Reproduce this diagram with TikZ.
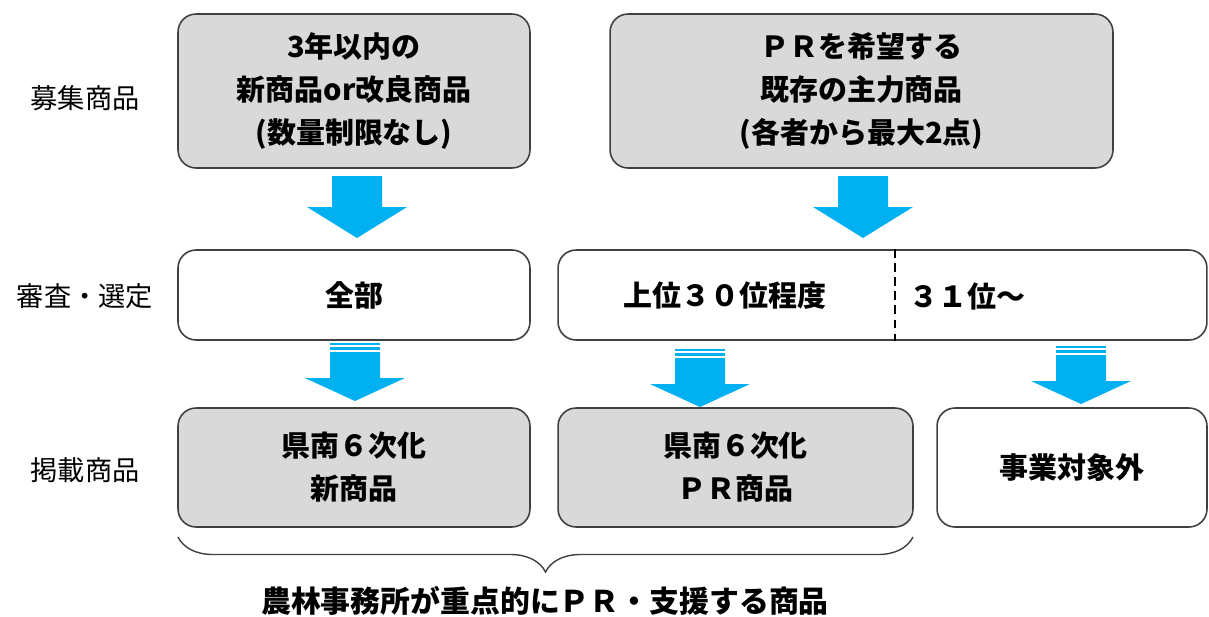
\documentclass[tikz,border=0pt]{standalone}
\usepackage{fontspec}
\newfontfamily\cjk{Noto Sans CJK JP}
\usetikzlibrary{positioning, calc, decorations.pathreplacing}

\definecolor{arrowblue}{HTML}{00B0F0}
\definecolor{boxgray}{HTML}{D9D9D9}
\definecolor{edgegray}{HTML}{404040}

% plain block arrow: centre x, top, head base, tip
\newcommand{\blockarrow}[4]{%
  \fill[arrowblue] (#1-25,#2) -- (#1+25,#2) -- (#1+25,#3) -- (#1+50,#3)
    -- (#1,#4) -- (#1-50,#3) -- (#1-25,#3) -- cycle;}
% block arrow with two thin bands on top
\newcommand{\bandarrow}[4]{%
  \fill[arrowblue] (#1-25,#2) rectangle (#1+25,#2+1.5);
  \fill[arrowblue] (#1-25,#2+3.5) rectangle (#1+25,#2+7);
  \blockarrow{#1}{#2+9}{#3}{#4}}

\begin{document}
\begin{tikzpicture}[x=0.02cm, y=-0.02cm, font=\cjk,
    box/.style={draw=edgegray, line width=0.9pt, rounded corners=0.36cm,
      fill=white, align=center, font=\cjk\bfseries\fontsize{16.5pt}{24.5pt}\selectfont},
    graybox/.style={box, fill=boxgray},
    rowlabel/.style={font=\cjk\fontsize{15.5pt}{18pt}\selectfont},
    boxtext/.style={font=\cjk\bfseries\fontsize{16.5pt}{20pt}\selectfont}]
  \useasboundingbox (0,0) rectangle (1209,616);

  % row labels
  \node[rowlabel] (lab1) at (85,98) {募集商品};
  \node[rowlabel] (lab2) at (85,296) {審査・選定};
  \node[rowlabel] (lab3) at (85,470) {掲載商品};

  % top row
  \node[graybox, minimum width=7.04cm, minimum height=3.08cm] (newitem) at (354,91)
    {3年以内の\\新商品or改良商品\\(数量制限なし)};
  \node[graybox, minimum width=10.06cm, minimum height=3.08cm] (mainitem) at (861.5,91)
    {ＰＲを希望する\\既存の主力商品\\(各者から最大2点)};

  % middle row
  \node[box, minimum width=7.04cm, minimum height=1.8cm] (all) at (354,295) {全部};
  \node[box, minimum width=12.98cm, minimum height=1.8cm] (rank) at (882.5,295) {};
  \node[boxtext] (top30) at (725,296) {上位３０位程度};
  \node[boxtext, anchor=west] (from31) at (903,296) {３１位～};
  \coordinate (cut) at (895,295);
  \draw[black, line width=1.5pt, dash pattern=on 5pt off 3pt]
    (rank.north -| cut) -- (rank.south -| cut);

  % bottom row
  \node[graybox, minimum width=7.04cm, minimum height=2.38cm] (newpr) at (354,467.5)
    {県南６次化\\新商品};
  \node[graybox, minimum width=7.1cm, minimum height=2.38cm] (mainpr) at (735.5,467.5)
    {県南６次化\\ＰＲ商品};
  \node[box, minimum width=5.4cm, minimum height=2.38cm] (outside) at (1072,467.5)
    {事業対象外};

  % arrows
  \blockarrow{357}{176}{207}{238}
  \blockarrow{863}{176}{207}{238}
  \bandarrow{355}{343}{378}{401}
  \bandarrow{700}{349}{384}{407}
  \bandarrow{1081}{346}{381}{404}

  % brace and caption
  \coordinate (braceL) at (178,537);
  \coordinate (braceR) at (913,537);
  \draw[edgegray, line width=0.8pt, decorate,
    decoration={brace, mirror, amplitude=0.7cm}] (braceL) -- (braceR);
  \node[font=\cjk\bfseries\fontsize{17pt}{20pt}\selectfont] (caption) at (545,601)
    {農林事務所が重点的にＰＲ・支援する商品};
\end{tikzpicture}
\end{document}
